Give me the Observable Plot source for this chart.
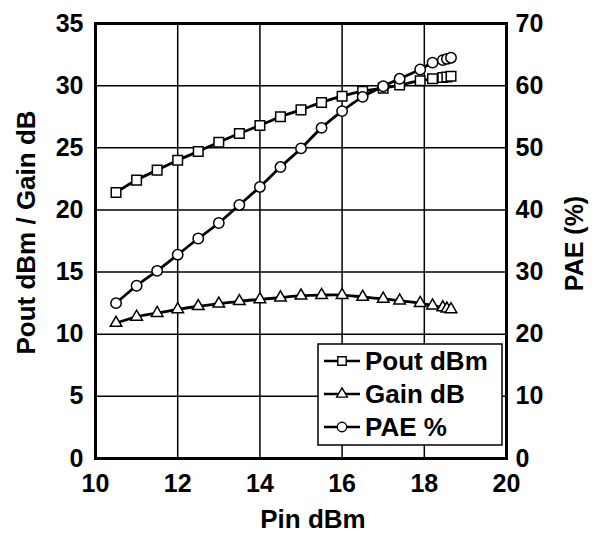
<!DOCTYPE html>
<html>
<head>
<meta charset="utf-8">
<script src="https://cdn.jsdelivr.net/npm/d3@7"></script>
<script src="https://cdn.jsdelivr.net/npm/@observablehq/plot@0.6"></script>
<style>
  html, body { margin: 0; padding: 0; background: #fff; overflow: hidden; }
  #chart { width: 598px; height: 533px; }
  #chart svg { display: block; }
</style>
</head>
<body>
<div id="chart"></div>
<script>
// ---- data ----
const pin  = [10.5, 11, 11.5, 12, 12.5, 13, 13.5, 14, 14.5, 15, 15.5, 16, 16.5, 17, 17.4, 17.9, 18.2, 18.45, 18.55, 18.65];
const pout = [21.4, 22.4, 23.2, 24.0, 24.7, 25.45, 26.15, 26.8, 27.5, 28.05, 28.65, 29.15, 29.55, 29.8, 30.05, 30.4, 30.55, 30.65, 30.7, 30.75];
const gain = [10.9, 11.4, 11.7, 12.0, 12.25, 12.45, 12.65, 12.8, 12.95, 13.1, 13.15, 13.15, 13.0, 12.85, 12.7, 12.5, 12.3, 12.15, 12.05, 12.0];
const pae  = [25.0, 27.8, 30.2, 32.8, 35.4, 37.9, 40.8, 43.7, 46.9, 49.9, 53.2, 55.9, 58.2, 59.9, 61.1, 62.6, 63.7, 64.1, 64.3, 64.5];

const xTicks = [10, 12, 14, 16, 18, 20];
const leftTicks = [0, 5, 10, 15, 20, 25, 30, 35];
const rightTicks = [0, 10, 20, 30, 40, 50, 60, 70];

const seriesNames = ["Pout dBm", "Gain dB", "PAE %"];
const seriesSymbols = ["square", "triangle", "circle"];

// PAE (0–70) shares the left scale (0–35) at a factor of 2
const paeFactor = 2;

const rows = pin.map((p, i) => ({pin: p, pout: pout[i], gain: gain[i], pae: pae[i] / paeFactor}));

const font = "'Liberation Sans', Arial, Helvetica, sans-serif";

const lineOpts = {stroke: "black", strokeWidth: 2.8, curve: "catmull-rom"};
const dotOpts = {fill: "white", stroke: "black", strokeWidth: 1.5};

const plot = Plot.plot({
  width: 598,
  height: 533,
  marginLeft: 95,
  marginRight: 92,
  marginTop: 23,
  marginBottom: 75,
  style: {fontFamily: font, fontSize: "25px", fontWeight: "bold", background: "white", color: "black"},
  x: {domain: [10, 20]},
  y: {domain: [0, 35]},
  marks: [
    Plot.gridX(xTicks, {stroke: "black", strokeOpacity: 1, strokeWidth: 1.5}),
    Plot.gridY(leftTicks, {stroke: "black", strokeOpacity: 1, strokeWidth: 1.5}),
    Plot.axisX(xTicks, {tickSize: 0, tickPadding: 16, label: null, fontSize: 25}),
    Plot.axisY(leftTicks, {tickSize: 0, tickPadding: 12, label: null, fontSize: 25}),
    Plot.axisY(rightTicks.map(v => v / paeFactor), {anchor: "right", tickSize: 0, tickPadding: 9, label: null, fontSize: 25,
      tickFormat: d => String(d * paeFactor)}),
    // Pout
    Plot.line(rows, {x: "pin", y: "pout", ...lineOpts}),
    Plot.dot(rows, {x: "pin", y: "pout", symbol: seriesSymbols[0], r: 5.4, ...dotOpts}),
    // Gain
    Plot.line(rows, {x: "pin", y: "gain", ...lineOpts}),
    Plot.dot(rows, {x: "pin", y: "gain", symbol: seriesSymbols[1], r: 4.3, ...dotOpts}),
    // PAE
    Plot.line(rows, {x: "pin", y: "pae", ...lineOpts}),
    Plot.dot(rows, {x: "pin", y: "pae", symbol: seriesSymbols[2], r: 5.2, ...dotOpts}),
    Plot.frame({stroke: "black", strokeWidth: 3})
  ]
});

document.getElementById("chart").appendChild(plot);

// ---- titles and legend (layout only) ----
const svg = d3.select(plot);
const y = plot.scale("y");
const midY = (y.apply(0) + y.apply(35)) / 2;

svg.append("text")
  .attr("x", 313).attr("y", 528)
  .attr("text-anchor", "middle")
  .attr("font-family", font).attr("font-weight", "bold").attr("font-size", 26)
  .text("Pin dBm");

svg.append("text")
  .attr("transform", `translate(35,${midY - 8}) rotate(-90)`)
  .attr("text-anchor", "middle")
  .attr("font-family", font).attr("font-weight", "bold").attr("font-size", 26)
  .text("Pout dBm / Gain dB");

svg.append("text")
  .attr("transform", `translate(583,${midY + 3}) rotate(-90)`)
  .attr("text-anchor", "middle")
  .attr("font-family", font).attr("font-weight", "bold").attr("font-size", 25)
  .text("PAE (%)");

const lg = svg.append("g").attr("transform", "translate(318,344)");
lg.append("rect").attr("width", 184).attr("height", 101)
  .attr("fill", "white").attr("stroke", "black").attr("stroke-width", 1.5);
seriesNames.forEach((name, i) => {
  const cy = 17 + i * 33;
  lg.append("line").attr("x1", 6).attr("x2", 42).attr("y1", cy).attr("y2", cy)
    .attr("stroke", "black").attr("stroke-width", 2.6);
  lg.append("path")
    .attr("transform", `translate(24,${cy})`)
    .attr("d", d3.symbol(
      seriesSymbols[i] === "square" ? d3.symbolSquare : seriesSymbols[i] === "triangle" ? d3.symbolTriangle : d3.symbolCircle,
      seriesSymbols[i] === "triangle" ? 50 : 70)())
    .attr("fill", "white").attr("stroke", "black").attr("stroke-width", 1.4);
  lg.append("text")
    .attr("x", 47).attr("y", cy).attr("dy", "0.36em")
    .attr("text-anchor", "start")
    .attr("font-family", font).attr("font-weight", "bold").attr("font-size", 26)
    .text(name);
});
</script>
</body>
</html>
